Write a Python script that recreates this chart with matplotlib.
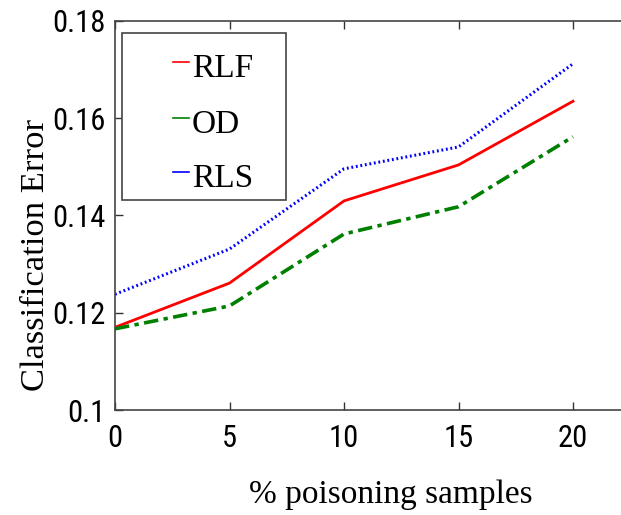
import matplotlib
matplotlib.use("Agg")
import matplotlib.pyplot as plt
from matplotlib.lines import Line2D
from matplotlib.patches import Rectangle
from matplotlib import font_manager
from matplotlib.font_manager import FontProperties

x = [0, 5, 10, 15, 20]
rlf = [0.1170, 0.1261, 0.1430, 0.1504, 0.1635]
od = [0.1167, 0.1214, 0.1362, 0.1418, 0.1562]
rls = [0.1238, 0.1331, 0.1496, 0.1541, 0.1712]
labels = ["RLF", "OD", "RLS"]
xticks = [0, 5, 10, 15, 20]
yticks = [0.1, 0.12, 0.14, 0.16, 0.18]
yticklabels = ["0.1", "0.12", "0.14", "0.16", "0.18"]

# pick a narrow sans font for tick labels if one is installed
tick_fp = None
cands = []
for f in font_manager.fontManager.ttflist:
    fn = f.fname.lower()
    if ("narrow" in fn or "condensed" in fn) and f.style == "normal" and f.weight in (400, "normal", "regular"):
        if "bold" in fn or "italic" in fn or "oblique" in fn or "light" in fn or "semi" in fn or "extra" in fn or "medium" in fn or "thin" in fn or "black" in fn:
            continue
        cands.append(f.fname)
cands.sort(key=lambda s: (0 if "liberation" in s.lower() else 1 if "roboto" in s.lower() else 2, s))
if cands:
    tick_fp = FontProperties(fname=cands[0], size=22)
else:
    tick_fp = FontProperties(family=["Liberation Sans", "DejaVu Sans"], size=19)

serif = ["Liberation Serif", "DejaVu Serif"]

W, H = 621, 515
fig = plt.figure(figsize=(W / 100, H / 100), dpi=100)
ax = fig.add_axes([115 / W, 1 - 410 / H, 1 - 115 / W, (410 - 21) / H])

c_rlf, c_od, c_rls = (1, 0, 0), (0, 0.5, 0), (0, 0, 1)
ax.plot(x, rlf, color=c_rlf, lw=2.0, ls="-")
ax.plot(x, od, color=c_od, lw=2.6, ls=(0, (4, 1.5, 1.2, 1.5)))
ax.plot(x, rls, color=c_rls, lw=2.2, ls=(0, (0.6, 0.9)))

ax.set_xlim(0, (W - 115) / ((573 - 115) / 20))
ax.set_ylim(0.1, 0.18)
ax.set_xticks(xticks)
ax.set_yticks(yticks)
ax.set_yticklabels(yticklabels)
for lab in ax.get_xticklabels() + ax.get_yticklabels():
    lab.set_fontproperties(tick_fp)
ax.tick_params(direction="in", length=6, width=1, top=True, right=False,
               colors="#333333", labelcolor="black")
ax.tick_params(axis="y", pad=7)
ax.tick_params(axis="x", pad=10)
for s in ["left", "bottom", "top"]:
    ax.spines[s].set_color("#444444")
    ax.spines[s].set_linewidth(1.2)
ax.spines["right"].set_visible(False)

ax.set_xlabel("% poisoning samples", family=serif, fontsize=24)
ax.xaxis.set_label_coords((391 - 115) / 506, (410 - 480) / 389)
ax.xaxis.label.set_verticalalignment("top")
ax.set_ylabel("Classification Error", family=serif, fontsize=24.8)
ax.yaxis.set_label_coords((51 - 115) / 506, (410 - 255) / 389)

# legend box drawn in figure pixel fractions
fx = lambda px: px / W
fy = lambda py: 1 - py / H
fig.add_artist(Rectangle((fx(122), fy(200)), fx(286) - fx(122), fy(33) - fy(200),
                         transform=fig.transFigure, fill=True, facecolor="white",
                         edgecolor="#444444", lw=1.2, zorder=5))
ys = [65, 121, 175]
for lab, col, yc in zip(labels, [c_rlf, c_od, c_rls], ys):
    fig.add_artist(Line2D([fx(173), fx(189)], [fy(yc - 3), fy(yc - 3)],
                          transform=fig.transFigure, color=col, lw=1.2, zorder=6))
    fig.text(fx(192), fy(yc), lab, family=serif, fontsize=24,
             va="center_baseline", ha="left", zorder=6)

fig.savefig("out.png", dpi=100)
